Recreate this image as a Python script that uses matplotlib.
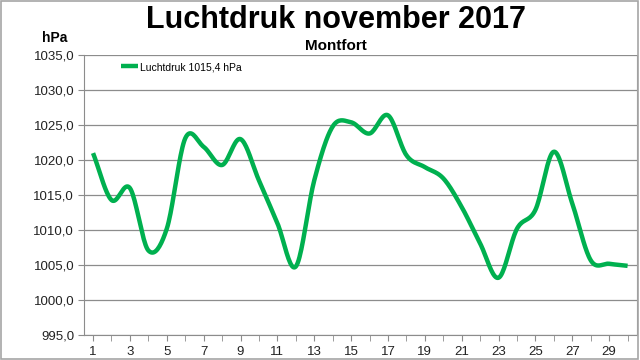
import numpy as np
import matplotlib
matplotlib.use("Agg")
import matplotlib.pyplot as plt
from matplotlib.patches import Rectangle

plt.rcParams['font.family'] = ['Liberation Sans', 'DejaVu Sans']

days = list(range(1, 31))
druk = [1021.0, 1014.3, 1016.0, 1007.1, 1010.2, 1023.1, 1021.9, 1019.3, 1023.0, 1017.1,
        1011.0, 1004.8, 1017.1, 1024.8, 1025.4, 1023.8, 1026.4, 1020.7, 1019.0, 1017.4,
        1013.3, 1008.1, 1003.2, 1010.2, 1012.9, 1021.2, 1013.8, 1005.7, 1005.2, 1004.9]
yticks = [995, 1000, 1005, 1010, 1015, 1020, 1025, 1030, 1035]
legend_label = "Luchtdruk 1015,4 hPa"
green = "#00B04F"


def smooth(x, y, n=20):
    # catmull-rom, roughly like excel's smoothed line
    x = np.asarray(x, float)
    y = np.asarray(y, float)
    px = np.concatenate([[2 * x[0] - x[1]], x, [2 * x[-1] - x[-2]]])
    py = np.concatenate([[2 * y[0] - y[1]], y, [2 * y[-1] - y[-2]]])
    xs, ys = [], []
    t = np.linspace(0, 1, n, endpoint=False)
    for i in range(1, len(px) - 2):
        for p, out in ((px, xs), (py, ys)):
            p0, p1, p2, p3 = p[i - 1], p[i], p[i + 1], p[i + 2]
            out.extend(0.5 * ((2 * p1) + (-p0 + p2) * t + (2 * p0 - 5 * p1 + 4 * p2 - p3) * t ** 2
                              + (-p0 + 3 * p1 - 3 * p2 + p3) * t ** 3))
    xs.append(x[-1])
    ys.append(y[-1])
    return xs, ys


fig = plt.figure(figsize=(6.4, 3.6), dpi=100)
fig.patches.append(Rectangle((0.002, 0.003), 0.995, 0.994, transform=fig.transFigure,
                             fill=False, edgecolor="#A6A6A6", linewidth=1.2))
ax = fig.add_axes([0.131, 0.069, 0.864, 0.778])

sx, sy = smooth(days, druk)
ax.plot(sx, sy, color=green, linewidth=3.2, solid_capstyle='butt', label=legend_label)

ax.set_xlim(0.5, 30.5)
ax.set_ylim(995, 1035)
ax.set_yticks(yticks)
ax.set_yticklabels([f"{v:.1f}".replace('.', ',') for v in yticks])
ax.set_xticks(days, minor=True)
ax.set_xticks(days[::2])
ax.set_xticklabels([str(d) for d in days[::2]])
ax.grid(axis='y', color="#8C8C8C", linewidth=0.9)
ax.set_axisbelow(True)

for s in ['left', 'bottom', 'right']:
    ax.spines[s].set_color("#8C8C8C")
ax.spines['top'].set_visible(False)
ax.tick_params(axis='both', which='both', direction='out', color="#8C8C8C", labelsize=9.5,
               labelcolor="#222222")
ax.tick_params(axis='x', which='both', length=4, pad=4)
ax.tick_params(axis='y', length=4, pad=3)

ax.legend(loc='center left', bbox_to_anchor=(0.068, 0.957), frameon=False, fontsize=7.5,
          handlelength=1.6, handletextpad=0.15, borderaxespad=0, borderpad=0)

fig.text(0.525, 0.945, "Luchtdruk november 2017", ha='center', va='center',
         fontsize=22, fontweight='bold')
fig.text(0.525, 0.872, "Montfort", ha='center', va='center', fontsize=11, fontweight='bold')
fig.text(0.086, 0.895, "hPa", ha='center', va='center', fontsize=10, fontweight='bold')

fig.savefig("out.png", dpi=100)
